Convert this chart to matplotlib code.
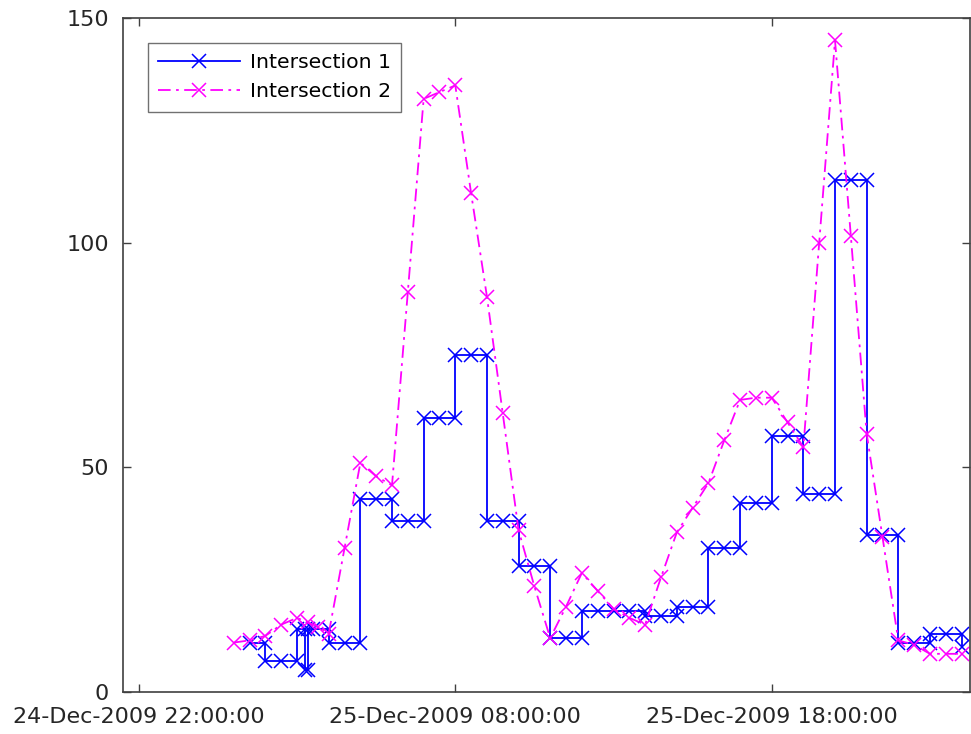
import matplotlib
matplotlib.use('Agg')
import matplotlib.pyplot as plt
import matplotlib.dates as mdates
from datetime import datetime

# Intersection 1 (step-like counts, duplicated times at each change)
t1 = ['25 01:30', '25 02:00', '25 02:00', '25 02:30', '25 03:00', '25 03:00',
      '25 03:15', '25 03:15', '25 03:20', '25 03:20', '25 03:30', '25 04:00',
      '25 04:00', '25 04:30', '25 05:00', '25 05:00', '25 05:30', '25 06:00',
      '25 06:00', '25 06:30', '25 07:00', '25 07:00', '25 07:30', '25 08:00',
      '25 08:00', '25 08:30', '25 09:00', '25 09:00', '25 09:30', '25 10:00',
      '25 10:00', '25 10:30', '25 11:00', '25 11:00', '25 11:30', '25 12:00',
      '25 12:00', '25 12:30', '25 13:00', '25 13:30', '25 14:00', '25 14:00',
      '25 14:30', '25 15:00', '25 15:00', '25 15:30', '25 16:00', '25 16:00',
      '25 16:30', '25 17:00', '25 17:00', '25 17:30', '25 18:00', '25 18:00',
      '25 18:30', '25 19:00', '25 19:00', '25 19:30', '25 20:00', '25 20:00',
      '25 20:30', '25 21:00', '25 21:00', '25 21:30', '25 22:00', '25 22:00',
      '25 22:30', '25 23:00', '25 23:00', '25 23:30', '26 00:00', '26 00:00']
y1 = [11, 11, 7, 7, 7, 14,
      14, 5, 5, 14, 14, 14,
      11, 11, 11, 43, 43, 43,
      38, 38, 38, 61, 61, 61,
      75, 75, 75, 38, 38, 38,
      28, 28, 28, 12, 12, 12,
      18, 18, 18, 18, 18, 17,
      17, 17, 19, 19, 19, 32,
      32, 32, 42, 42, 42, 57,
      57, 57, 44, 44, 44, 114,
      114, 114, 35, 35, 35, 11,
      11, 11, 13, 13, 13, 10]

# Intersection 2
t2 = ['25 01:00', '25 01:30', '25 02:00', '25 02:30', '25 03:00', '25 03:20',
      '25 03:40', '25 04:00', '25 04:30', '25 05:00', '25 05:30', '25 06:00',
      '25 06:30', '25 07:00', '25 07:30', '25 08:00', '25 08:30', '25 09:00',
      '25 09:30', '25 10:00', '25 10:30', '25 11:00', '25 11:30', '25 12:00',
      '25 12:30', '25 13:00', '25 13:30', '25 14:00', '25 14:30', '25 15:00',
      '25 15:30', '25 16:00', '25 16:30', '25 17:00', '25 17:30', '25 18:00',
      '25 18:30', '25 19:00', '25 19:30', '25 20:00', '25 20:30', '25 21:00',
      '25 21:30', '25 22:00', '25 22:30', '25 23:00', '25 23:30', '26 00:00']
y2 = [11, 11.5, 12.5, 15, 16.5, 15.5,
      14.5, 13, 32, 51, 48, 46,
      89, 132, 133.5, 135, 111, 88,
      62, 36, 23.5, 12, 19, 26.5,
      22.5, 18.5, 16.5, 15, 25.5, 35.5,
      41, 46.5, 56, 65, 65.5, 65.5,
      60, 54.5, 100, 145, 101.5, 57.5,
      34.5, 11.5, 10.5, 8.5, 8.5, 8.5]

tick_times = [datetime(2009, 12, 24, 22, 0), datetime(2009, 12, 25, 8, 0),
              datetime(2009, 12, 25, 18, 0)]
yticks = [0, 50, 100, 150]


def to_dt(s):
    return datetime.strptime('2009-12-' + s, '%Y-%m-%d %H:%M')


x1 = [to_dt(s) for s in t1]
x2 = [to_dt(s) for s in t2]

fig = plt.figure(figsize=(9.71, 7.34), dpi=100)
ax = fig.add_axes([0.1267, 0.0572, 0.8723, 0.9183])

ax.plot(x1, y1, color='#0000ff', linestyle='-', linewidth=1.3, marker='x',
        markersize=10, markeredgewidth=1.1, label='Intersection 1')
ax.plot(x2, y2, color='#ff00ff', linestyle=(0, (7, 3, 1.5, 3)), linewidth=1.3,
        marker='x', markersize=10, markeredgewidth=1.1, label='Intersection 2')

ax.set_xlim(datetime(2009, 12, 24, 21, 30), datetime(2009, 12, 26, 0, 16))
ax.set_ylim(0, 150)
ax.set_xticks(tick_times)
ax.xaxis.set_major_formatter(mdates.DateFormatter('%d-%b-%Y %H:%M:%S'))
ax.set_yticks(yticks)

for s in ax.spines.values():
    s.set_color('0.25')
    s.set_linewidth(1.2)
ax.tick_params(direction='in', length=6, width=1, colors='0.25',
               labelcolor='#262626', labelsize=16,
               top=True, right=True)
ax.tick_params(axis='x', pad=11)
ax.tick_params(axis='y', pad=10)

leg = ax.legend(loc='upper left', bbox_to_anchor=(0.0295, 0.963),
                borderaxespad=0, fontsize=14.7, frameon=True, fancybox=False,
                handlelength=4.0, handletextpad=0.5, borderpad=0.5,
                labelspacing=0.5)
leg.get_frame().set_edgecolor('0.3')
leg.get_frame().set_linewidth(1.0)

fig.savefig('out.png', dpi=100)
